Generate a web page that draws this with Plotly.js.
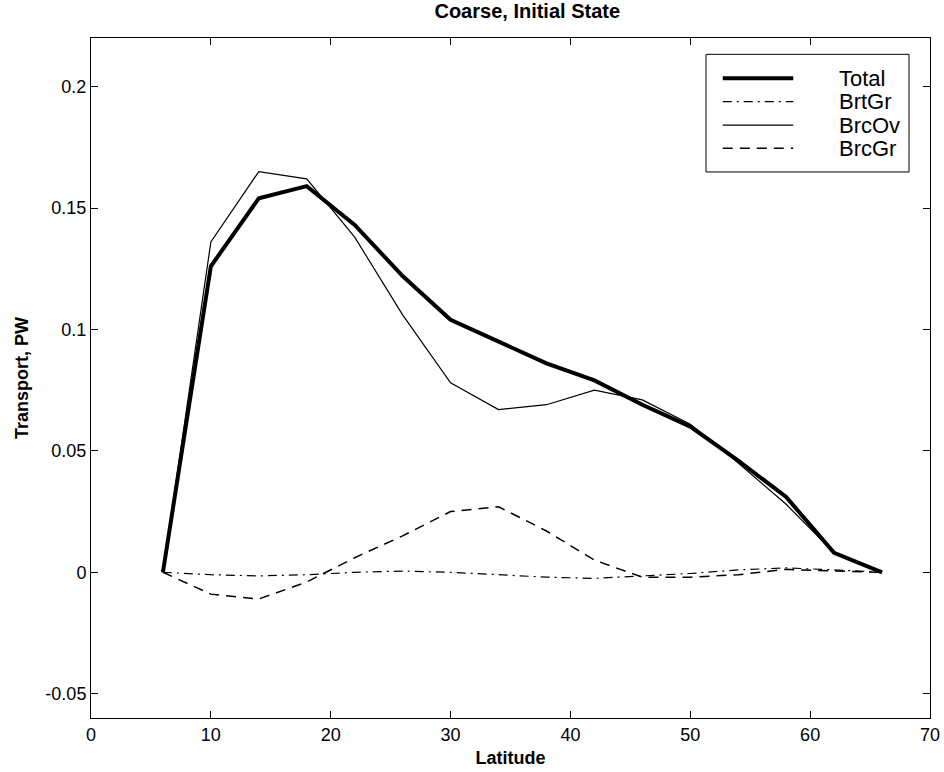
<!DOCTYPE html>
<html>
<head>
<meta charset="utf-8">
<script src="https://cdn.plot.ly/plotly-3.0.1.min.js"></script>
<style>
  html, body { margin: 0; padding: 0; background: #fff; }
  #chart { width: 944px; height: 772px; }
</style>
</head>
<body>
<div id="chart"></div>
<script>
// Meridional heat transport components, coarse run, initial state
const latitude = [6, 10, 14, 18, 22, 26, 30, 34, 38, 42, 46, 50, 54, 58, 62, 66];
const total = [0, 0.126, 0.154, 0.159, 0.143, 0.122, 0.104, 0.095, 0.086, 0.079, 0.069, 0.060, 0.046, 0.031, 0.008, 0];
const brtGr = [0, -0.001, -0.0015, -0.001, 0, 0.0005, 0, -0.001, -0.002, -0.0025, -0.0015, -0.0005, 0.001, 0.0018, 0.001, 0];
const brcOv = [0, 0.136, 0.165, 0.162, 0.138, 0.106, 0.078, 0.067, 0.069, 0.075, 0.071, 0.061, 0.045, 0.028, 0.008, 0];
const brcGr = [0, -0.009, -0.011, -0.004, 0.006, 0.015, 0.025, 0.027, 0.017, 0.005, -0.002, -0.002, -0.001, 0.0012, 0.0005, 0];

const seriesNames = ['Total', 'BrtGr', 'BrcOv', 'BrcGr'];
const xTickVals = [0, 10, 20, 30, 40, 50, 60, 70];
const yTickVals = [-0.05, 0, 0.05, 0.1, 0.15, 0.2];
const yTickLabels = ['-0.05', '0', '0.05', '0.1', '0.15', '0.2'];

const FONT = 'Liberation Sans, Arial, Helvetica, sans-serif';

const styles = [
  { width: 4, dash: 'solid' },
  { width: 1.2, dash: '9px,5px,2px,5px' },
  { width: 1.2, dash: 'solid' },
  { width: 1.5, dash: '10px,7px' }
];
const values = [total, brtGr, brcOv, brcGr];

const traces = values.map((v, i) => ({
  x: latitude,
  y: v,
  name: seriesNames[i],
  type: 'scatter',
  mode: 'lines',
  line: { color: '#000', width: styles[i].width, dash: styles[i].dash },
  showlegend: false,
  hoverinfo: 'x+y+name'
}));

// Boxed key in the upper right of the axes
const keyBox = { x0: 0.733, x1: 0.975, y0: 0.803, y1: 0.976 };
const keyRows = [0.9407, 0.9063, 0.872, 0.8378];
const shapes = [{
  type: 'rect', xref: 'paper', yref: 'paper',
  x0: keyBox.x0, x1: keyBox.x1, y0: keyBox.y0, y1: keyBox.y1,
  line: { color: '#000', width: 1 }, fillcolor: '#fff', layer: 'above'
}];
const annotations = [];
seriesNames.forEach((name, i) => {
  shapes.push({
    type: 'line', xref: 'paper', yref: 'paper',
    x0: 0.753, x1: 0.837, y0: keyRows[i], y1: keyRows[i],
    line: { color: '#000', width: styles[i].width, dash: styles[i].dash },
    layer: 'above'
  });
  annotations.push({
    xref: 'paper', yref: 'paper', x: 0.889, y: keyRows[i],
    xanchor: 'left', yanchor: 'middle', showarrow: false,
    text: name, font: { family: FONT, size: 22, color: '#000' }
  });
});

const axisCommon = {
  showgrid: false, zeroline: false,
  showline: true, linecolor: '#000', linewidth: 1, mirror: 'ticks',
  ticks: 'inside', ticklen: 7, tickcolor: '#000', tickwidth: 1,
  tickfont: { family: FONT, size: 18, color: '#000' }
};

const layout = {
  width: 944, height: 772,
  margin: { l: 91, r: 14, t: 38, b: 54 },
  paper_bgcolor: '#fff', plot_bgcolor: '#fff',
  font: { family: FONT, color: '#000' },
  title: {
    text: '<b>Coarse, Initial State</b>',
    font: { family: FONT, size: 20, color: '#000' },
    x: 0.52, xref: 'paper', xanchor: 'center',
    y: 1, yref: 'container', yanchor: 'top',
    pad: { t: 4 }
  },
  xaxis: Object.assign({}, axisCommon, {
    range: [0, 70], tickmode: 'array', tickvals: xTickVals,
    title: { text: '<b>Latitude</b>', font: { family: FONT, size: 18, color: '#000' }, standoff: 7 }
  }),
  yaxis: Object.assign({}, axisCommon, {
    range: [-0.06, 0.22], tickmode: 'array', tickvals: yTickVals, ticktext: yTickLabels,
    title: { text: '<b>Transport, PW</b>', font: { family: FONT, size: 18, color: '#000' }, standoff: 12 }
  }),
  shapes: shapes,
  annotations: annotations
};

Plotly.newPlot('chart', traces, layout, { displayModeBar: false, staticPlot: true });
</script>
</body>
</html>
